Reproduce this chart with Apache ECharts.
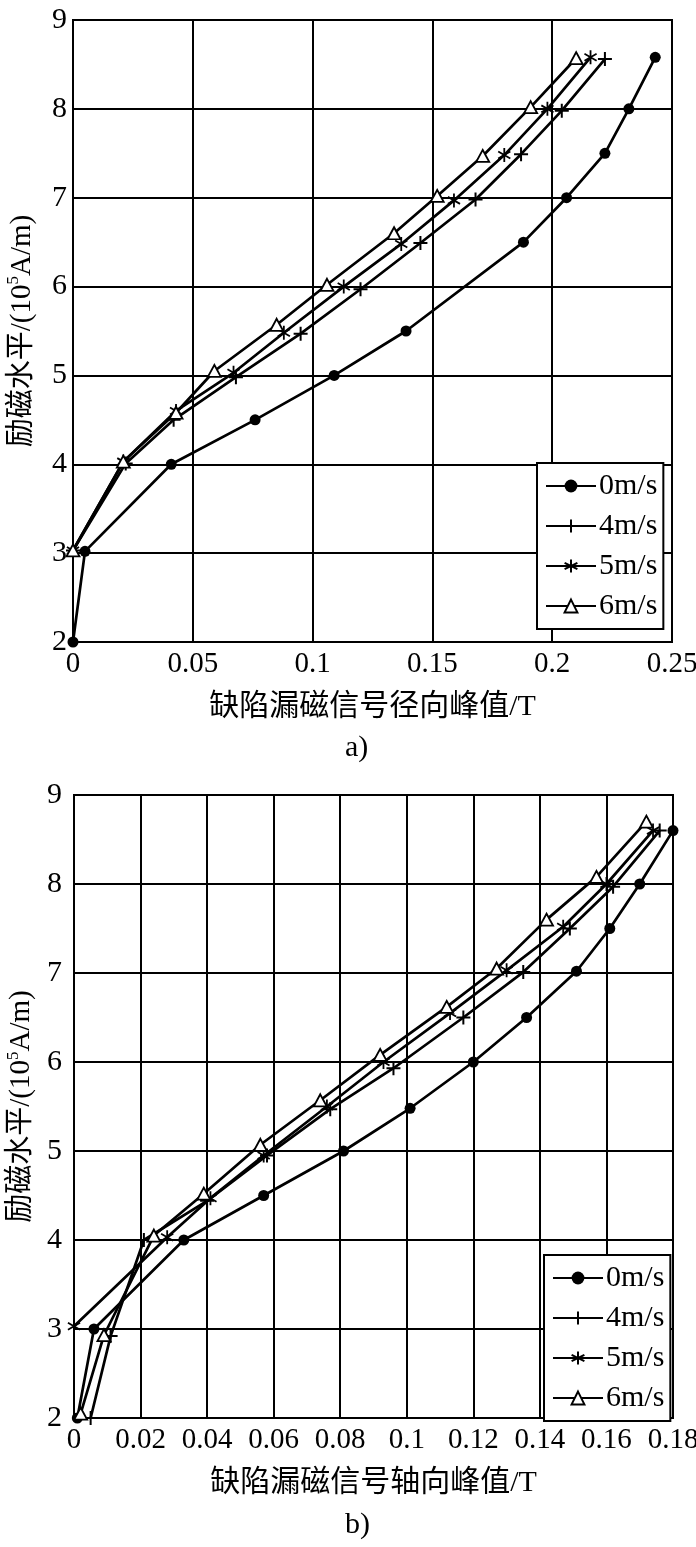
<!DOCTYPE html>
<html>
<head>
<meta charset="utf-8">
<script src="https://cdn.jsdelivr.net/npm/echarts@6/dist/echarts.min.js"></script>
<style>
  html, body { margin: 0; padding: 0; background: #fff; }
  #chart { width: 696px; height: 1547px; }
</style>
</head>
<body>
<div id="chart"></div>
<script>
// ---------- Data ----------
const seriesNames = ['0m/s', '4m/s', '5m/s', '6m/s'];

// Chart a): radial peak (T) vs excitation level (10^5 A/m)
const aSpeed0 = [[0, 2.0], [0.005, 3.02], [0.041, 4.0], [0.076, 4.5], [0.109, 5.0], [0.139, 5.5], [0.188, 6.5], [0.206, 7.0], [0.222, 7.5], [0.232, 8.0], [0.243, 8.58]];
const aSpeed4 = [[0, 3.03], [0.022, 4.01], [0.042, 4.5], [0.068, 4.98], [0.095, 5.47], [0.120, 5.97], [0.145, 6.49], [0.168, 6.98], [0.187, 7.49], [0.204, 7.98], [0.222, 8.56]];
const aSpeed5 = [[0, 3.03], [0.021, 4.03], [0.043, 4.6], [0.067, 5.03], [0.088, 5.48], [0.113, 6.0], [0.137, 6.48], [0.159, 6.97], [0.180, 7.48], [0.198, 8.0], [0.216, 8.58]];
const aSpeed6 = [[0, 3.03], [0.021, 4.03], [0.043, 4.58], [0.059, 5.05], [0.085, 5.57], [0.106, 6.02], [0.134, 6.6], [0.152, 7.02], [0.171, 7.47], [0.191, 8.02], [0.210, 8.57]];

// Chart b): axial peak (T) vs excitation level (10^5 A/m)
const bSpeed0 = [[0.001, 2.0], [0.006, 3.0], [0.033, 4.0], [0.057, 4.5], [0.081, 5.0], [0.101, 5.48], [0.120, 6.0], [0.136, 6.5], [0.151, 7.02], [0.161, 7.5], [0.170, 8.0], [0.180, 8.6]];
const bSpeed4 = [[0.005, 2.0], [0.011, 2.92], [0.021, 4.0], [0.040, 4.44], [0.058, 4.95], [0.077, 5.47], [0.096, 5.93], [0.117, 6.5], [0.135, 7.01], [0.149, 7.5], [0.162, 7.97], [0.176, 8.6]];
const bSpeed5 = [[0, 3.03], [0.028, 4.03], [0.041, 4.47], [0.057, 4.95], [0.076, 5.5], [0.093, 6.0], [0.113, 6.55], [0.130, 7.03], [0.147, 7.52], [0.160, 8.0], [0.174, 8.6]];
const bSpeed6 = [[0.002, 2.05], [0.009, 2.93], [0.024, 4.05], [0.039, 4.52], [0.056, 5.07], [0.074, 5.57], [0.092, 6.08], [0.112, 6.62], [0.127, 7.05], [0.142, 7.6], [0.157, 8.08], [0.172, 8.7]];

// Axes
const aXRange = [0, 0.25], aXStep = 0.05;
const bXRange = [0, 0.18], bXStep = 0.02;
const yRange = [2, 9], yStep = 1;
const aXTitle = '缺陷漏磁信号径向峰值/T';
const bXTitle = '缺陷漏磁信号轴向峰值/T';
const yTitleParts = ['励磁水平/(10', '5', 'A/m)'];
const captions = ['a)', 'b)'];

// ---------- Styles ----------
const SERIF = '"Liberation Serif", "Times New Roman", "Noto Sans CJK SC", serif';
const BLACK = '#000';
const plusPath = 'path://M0,5 L10,5 M5,0 L5,10';
const starPath = 'path://M5,0 L5,10 M0.67,2.5 L9.33,7.5 M0.67,7.5 L9.33,2.5';

const markerStyles = [
  { symbol: 'circle', symbolSize: 11, itemStyle: { color: BLACK } },
  { symbol: plusPath, symbolSize: 14, symbolKeepAspect: true, itemStyle: { color: 'none', borderColor: BLACK, borderWidth: 2 } },
  { symbol: starPath, symbolSize: 14, symbolKeepAspect: true, itemStyle: { color: 'none', borderColor: BLACK, borderWidth: 1.8 } },
  { symbol: 'triangle', symbolSize: [13, 12], itemStyle: { color: '#fff', borderColor: BLACK, borderWidth: 1.8 } }
];

function makeSeries(name, data, idx, axisIdx) {
  return Object.assign({
    name: name,
    type: 'line',
    data: data,
    xAxisIndex: axisIdx,
    yAxisIndex: axisIdx,
    showAllSymbol: true,
    lineStyle: { color: BLACK, width: 2.7 },
    emphasis: { disabled: true },
    z: 3 + idx
  }, markerStyles[idx]);
}

function xAxisDef(gridIndex, range, step, title) {
  return {
    type: 'value', gridIndex: gridIndex, min: range[0], max: range[1], interval: step,
    name: title, nameLocation: 'middle', nameGap: 50,
    nameTextStyle: { fontFamily: SERIF, fontSize: 30, color: BLACK },
    axisLine: { show: true, lineStyle: { color: BLACK, width: 2 } },
    axisTick: { show: false },
    axisLabel: { fontFamily: SERIF, fontSize: 29, color: BLACK, margin: 8 },
    splitLine: { show: true, lineStyle: { color: BLACK, width: 2 } }
  };
}

function yAxisDef(gridIndex, labelMargin) {
  return {
    type: 'value', gridIndex: gridIndex, min: yRange[0], max: yRange[1], interval: yStep,
    name: '{b|' + yTitleParts[0] + '}{sup|' + yTitleParts[1] + '}{b|' + yTitleParts[2] + '}',
    nameLocation: 'middle', nameRotate: 90, nameGap: 34,
    nameTextStyle: {
      fontFamily: SERIF, fontSize: 29, color: BLACK,
      rich: {
        b: { fontFamily: SERIF, fontSize: 29, color: BLACK, lineHeight: 34, verticalAlign: 'middle' },
        sup: { fontFamily: SERIF, fontSize: 17, color: BLACK, lineHeight: 20, verticalAlign: 'top' }
      }
    },
    axisLine: { show: true, lineStyle: { color: BLACK, width: 2 } },
    axisTick: { show: false },
    axisLabel: { fontFamily: SERIF, fontSize: 30, color: BLACK, margin: labelMargin },
    splitLine: { show: true, lineStyle: { color: BLACK, width: 2 } }
  };
}

function legendDef(left, top) {
  return {
    data: seriesNames,
    orient: 'vertical', left: left, top: top,
    itemWidth: 50, itemHeight: 16, itemGap: 10,
    padding: [8, 6, 8, 8],
    backgroundColor: '#fff', borderColor: BLACK, borderWidth: 2, borderRadius: 0,
    textStyle: { fontFamily: SERIF, fontSize: 30, color: BLACK, padding: [0, 0, 0, -2] },
    selectedMode: false
  };
}

const gridCommon = { show: true, borderColor: BLACK, borderWidth: 2, backgroundColor: 'transparent', containLabel: false, outerBoundsMode: 'none' };

const option = {
  animation: false,
  backgroundColor: '#fff',
  grid: [
    Object.assign({ left: 73, top: 20, width: 599, height: 622 }, gridCommon),
    Object.assign({ left: 74, top: 795, width: 599, height: 623 }, gridCommon)
  ],
  xAxis: [
    xAxisDef(0, aXRange, aXStep, aXTitle),
    xAxisDef(1, bXRange, bXStep, bXTitle)
  ],
  yAxis: [
    yAxisDef(0, 6),
    yAxisDef(1, 12)
  ],
  legend: [
    legendDef(537, 463),
    legendDef(544, 1255)
  ],
  graphic: [
    { type: 'text', left: 345, top: 733, style: { text: captions[0], font: '30px ' + SERIF, fill: BLACK } },
    { type: 'text', left: 345, top: 1510, style: { text: captions[1], font: '30px ' + SERIF, fill: BLACK } }
  ],
  series: [
    makeSeries(seriesNames[0], aSpeed0, 0, 0),
    makeSeries(seriesNames[1], aSpeed4, 1, 0),
    makeSeries(seriesNames[2], aSpeed5, 2, 0),
    makeSeries(seriesNames[3], aSpeed6, 3, 0),
    makeSeries(seriesNames[0], bSpeed0, 0, 1),
    makeSeries(seriesNames[1], bSpeed4, 1, 1),
    makeSeries(seriesNames[2], bSpeed5, 2, 1),
    makeSeries(seriesNames[3], bSpeed6, 3, 1)
  ]
};

const chart = echarts.init(document.getElementById('chart'), null, { renderer: 'canvas' });
chart.setOption(option);
</script>
</body>
</html>
